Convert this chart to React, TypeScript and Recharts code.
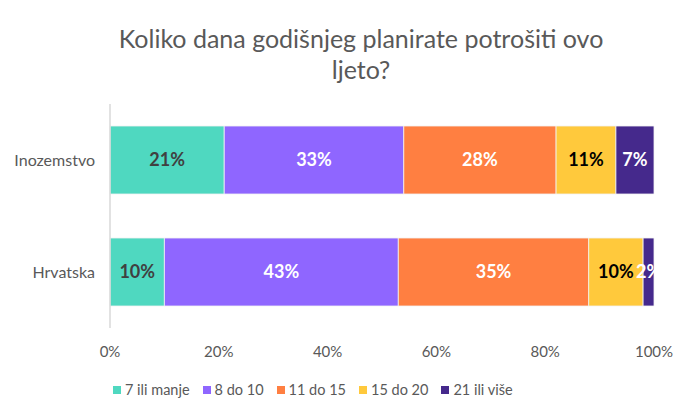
import { BarChart, Bar, XAxis, YAxis, LabelList } from "recharts";

const categories = ["Inozemstvo", "Hrvatska"];
const seriesNames = ["7 ili manje", "8 do 10", "11 do 15", "15 do 20", "21 ili više"];
const seriesValues = [
  [21, 10],
  [33, 43],
  [28, 35],
  [11, 10],
  [7, 2],
];
const xTicks = [0, 20, 40, 60, 80, 100];

const colors = ["#4fd8c0", "#8f66ff", "#ff7f41", "#ffc93c", "#45298c"];
const labelColors = ["#404040", "#ffffff", "#ffffff", "#000000", "#ffffff"];

const data = categories.map((name, i) => {
  const row: Record<string, string | number> = { name };
  seriesNames.forEach((s, j) => {
    row[s] = seriesValues[j][i];
  });
  return row;
});

const font = "Lato, 'Open Sans', sans-serif";

export default function App() {
  return (
    <div style={{ position: "absolute", left: 0, top: 0, width: 697, height: 418, background: "#fff" }}>
      <div
        style={{
          position: "absolute",
          left: 0,
          top: 23,
          width: 722,
          textAlign: "center",
          fontFamily: font,
          fontSize: 25,
          lineHeight: "31px",
          color: "#595959",
        }}
      >
        Koliko dana godišnjeg planirate potrošiti ovo
        <br />
        ljeto?
      </div>
      <BarChart
        width={697}
        height={418}
        data={data}
        layout="vertical"
        barSize={68}
        margin={{ top: 104, right: 43, bottom: 66, left: 6 }}
      >
        <XAxis
          type="number"
          domain={[0, 100]}
          ticks={xTicks}
          tickFormatter={(v) => `${v}%`}
          axisLine={false}
          tickLine={false}
          height={24}
          tick={{ fill: "#595959", fontSize: 15, fontFamily: font }}
          dy={10}
        />
        <YAxis
          type="category"
          dataKey="name"
          width={104}
          axisLine={{ stroke: "#d9d9d9", strokeWidth: 1.5 }}
          tickLine={false}
          tick={{ fill: "#595959", fontSize: 16, fontFamily: font }}
          dx={-7}
        />
        {seriesNames.map((s, i) => (
          <Bar key={s} dataKey={s} stackId="a" fill={colors[i]} stroke="#f2f2f2" strokeWidth={0.8} isAnimationActive={false}>
            <LabelList
              dataKey={s}
              position="center"
              formatter={(v: number) => `${v}%`}
              fill={labelColors[i]}
              style={{ fontSize: 18, fontWeight: 700, fontFamily: font }}
            />
          </Bar>
        ))}
      </BarChart>
      <div
        style={{
          position: "absolute",
          left: 113,
          top: 380,
          display: "flex",
          gap: 13,
          fontFamily: font,
          fontSize: 14.5,
          lineHeight: "20px",
          color: "#595959",
        }}
      >
        {seriesNames.map((s, i) => (
          <span key={s} style={{ display: "flex", alignItems: "center" }}>
            <span style={{ width: 8, height: 8, background: colors[i], marginRight: 4, display: "inline-block" }} />
            {s}
          </span>
        ))}
      </div>
    </div>
  );
}
